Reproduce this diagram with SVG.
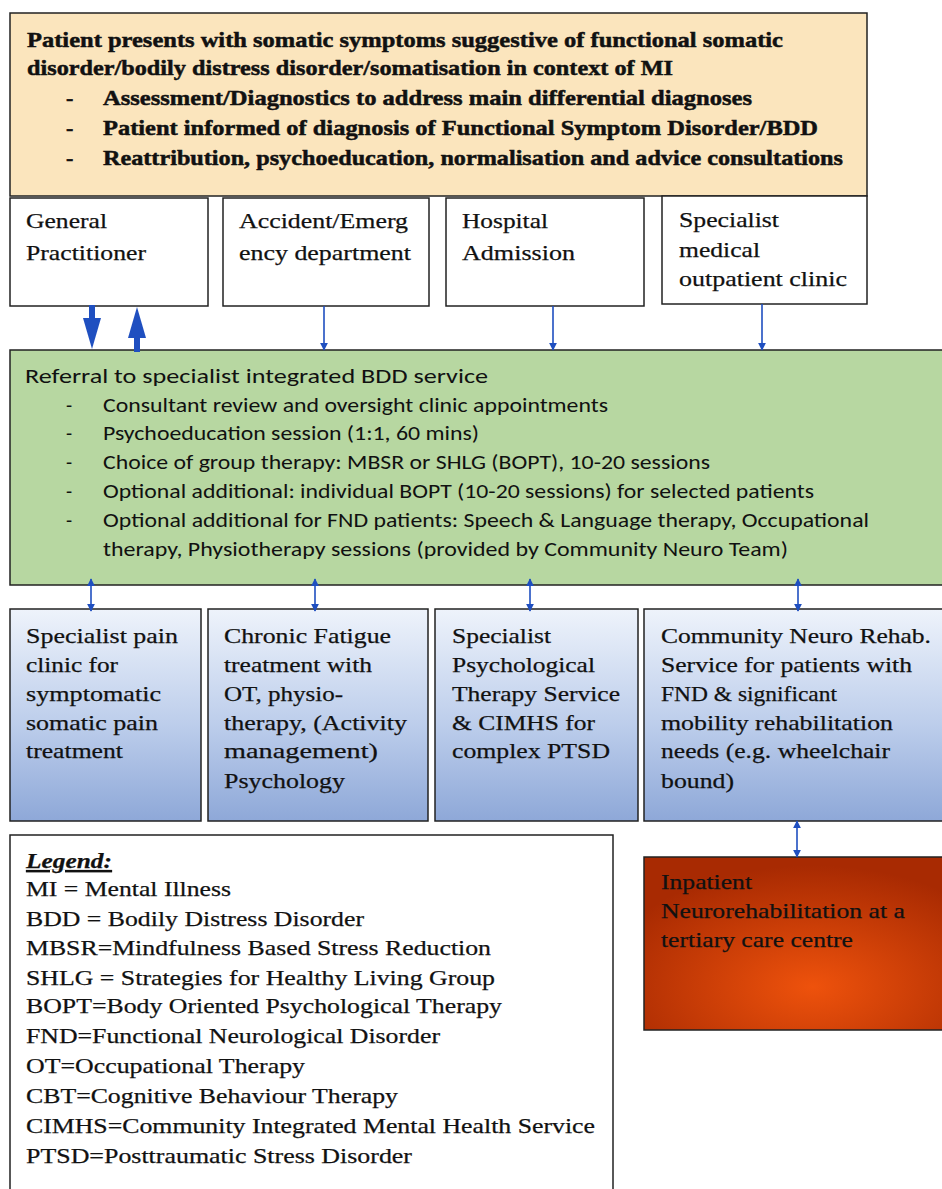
<svg xmlns="http://www.w3.org/2000/svg" width="942" height="1189" viewBox="0 0 942 1189">
<style>
.box{stroke:#222;stroke-width:1.5}
.ser{font-family:"Liberation Serif","Times New Roman",serif;font-size:22px;fill:#111;stroke:#111;stroke-width:0.25}
.bold{font-weight:bold;stroke:#111;stroke-width:0.5}
.sans{font-family:Carlito,"Liberation Sans",Arial,sans-serif;font-size:20px;fill:#111}
.thin{stroke:#1f4fc0;stroke-width:1.6;fill:none}
.thick{stroke:#1f4fc0;stroke-width:6;fill:none}
</style>
<defs>
<linearGradient id="blueG" x1="0" y1="0" x2="0" y2="1">
<stop offset="0" stop-color="#eef3fb"/>
<stop offset="0.55" stop-color="#bccdeb"/>
<stop offset="1" stop-color="#8ea8d8"/>
</linearGradient>
<radialGradient id="redG" cx="0.55" cy="0.75" r="0.7">
<stop offset="0" stop-color="#ee520c"/>
<stop offset="1" stop-color="#a82a02"/>
</radialGradient>
<marker id="ah" viewBox="0 0 10 10" refX="9" refY="5" markerWidth="8" markerHeight="8" markerUnits="userSpaceOnUse" orient="auto-start-reverse">
<path d="M0,0 L10,5 L0,10 z" fill="#1f4fc0"/>
</marker>
</defs>
<rect width="942" height="1189" fill="#ffffff"/>

<g id="node-top">
<rect class="box" x="10" y="13" width="857" height="183" fill="#fbe5bd"/>
<text class="ser bold" x="27" y="47" textLength="756" lengthAdjust="spacingAndGlyphs">Patient presents with somatic symptoms suggestive of functional somatic</text>
<text class="ser bold" x="27" y="75" textLength="646" lengthAdjust="spacingAndGlyphs">disorder/bodily distress disorder/somatisation in context of MI</text>
<text class="ser bold" x="66" y="105">-</text>
<text class="ser bold" x="103" y="105" textLength="649" lengthAdjust="spacingAndGlyphs">Assessment/Diagnostics to address main differential diagnoses</text>
<text class="ser bold" x="66" y="135">-</text>
<text class="ser bold" x="103" y="135" textLength="715" lengthAdjust="spacingAndGlyphs">Patient informed of diagnosis of Functional Symptom Disorder/BDD</text>
<text class="ser bold" x="66" y="165">-</text>
<text class="ser bold" x="103" y="165" textLength="740" lengthAdjust="spacingAndGlyphs">Reattribution, psychoeducation, normalisation and advice consultations</text>
</g>

<g id="node-gp">
<rect class="box" x="10" y="198" width="198" height="108" fill="#ffffff"/>
<text class="ser" x="26" y="228" textLength="81" lengthAdjust="spacingAndGlyphs">General</text>
<text class="ser" x="26" y="260" textLength="120" lengthAdjust="spacingAndGlyphs">Practitioner</text>
</g>
<g id="node-ae">
<rect class="box" x="223" y="198" width="206" height="108" fill="#ffffff"/>
<text class="ser" x="239" y="228" textLength="169" lengthAdjust="spacingAndGlyphs">Accident/Emerg</text>
<text class="ser" x="239" y="260" textLength="172" lengthAdjust="spacingAndGlyphs">ency department</text>
</g>
<g id="node-hosp">
<rect class="box" x="446" y="198" width="198" height="108" fill="#ffffff"/>
<text class="ser" x="462" y="228" textLength="86" lengthAdjust="spacingAndGlyphs">Hospital</text>
<text class="ser" x="462" y="260" textLength="113" lengthAdjust="spacingAndGlyphs">Admission</text>
</g>
<g id="node-spec">
<rect class="box" x="662" y="196" width="205" height="108" fill="#ffffff"/>
<text class="ser" x="679" y="227" textLength="100" lengthAdjust="spacingAndGlyphs">Specialist</text>
<text class="ser" x="679" y="257" textLength="81" lengthAdjust="spacingAndGlyphs">medical</text>
<text class="ser" x="679" y="286" textLength="168" lengthAdjust="spacingAndGlyphs">outpatient clinic</text>
</g>

<g id="node-referral">
<rect class="box" x="10" y="350" width="940" height="235" fill="#b7d7a1"/>
<text class="sans" x="25" y="383" font-size="22" textLength="463" lengthAdjust="spacingAndGlyphs">Referral to specialist integrated BDD service</text>
<text class="sans" x="66" y="412">-</text>
<text class="sans" x="103" y="412" textLength="505" lengthAdjust="spacingAndGlyphs">Consultant review and oversight clinic appointments</text>
<text class="sans" x="66" y="440">-</text>
<text class="sans" x="103" y="440" textLength="376" lengthAdjust="spacingAndGlyphs">Psychoeducation session (1:1, 60 mins)</text>
<text class="sans" x="66" y="469">-</text>
<text class="sans" x="103" y="469" textLength="607" lengthAdjust="spacingAndGlyphs">Choice of group therapy: MBSR or SHLG (BOPT), 10-20 sessions</text>
<text class="sans" x="66" y="498">-</text>
<text class="sans" x="103" y="498" textLength="711" lengthAdjust="spacingAndGlyphs">Optional additional: individual BOPT (10-20 sessions) for selected patients</text>
<text class="sans" x="66" y="527">-</text>
<text class="sans" x="103" y="527" textLength="766" lengthAdjust="spacingAndGlyphs">Optional additional for FND patients: Speech &amp; Language therapy, Occupational</text>
<text class="sans" x="103" y="556" textLength="685" lengthAdjust="spacingAndGlyphs">therapy, Physiotherapy sessions (provided by Community Neuro Team)</text>
</g>

<g id="node-pain">
<rect class="box" x="10" y="609" width="191" height="212" fill="url(#blueG)"/>
<text class="ser" x="26" y="643" textLength="152" lengthAdjust="spacingAndGlyphs">Specialist pain</text>
<text class="ser" x="26" y="672" textLength="92" lengthAdjust="spacingAndGlyphs">clinic for</text>
<text class="ser" x="26" y="701" textLength="135" lengthAdjust="spacingAndGlyphs">symptomatic</text>
<text class="ser" x="26" y="730" textLength="132" lengthAdjust="spacingAndGlyphs">somatic pain</text>
<text class="ser" x="26" y="758" textLength="97" lengthAdjust="spacingAndGlyphs">treatment</text>
</g>
<g id="node-fatigue">
<rect class="box" x="208" y="609" width="220" height="212" fill="url(#blueG)"/>
<text class="ser" x="224" y="643" textLength="167" lengthAdjust="spacingAndGlyphs">Chronic Fatigue</text>
<text class="ser" x="224" y="672" textLength="148" lengthAdjust="spacingAndGlyphs">treatment with</text>
<text class="ser" x="224" y="701" textLength="119" lengthAdjust="spacingAndGlyphs">OT, physio-</text>
<text class="ser" x="224" y="730" textLength="183" lengthAdjust="spacingAndGlyphs">therapy, (Activity</text>
<text class="ser" x="224" y="758" textLength="154" lengthAdjust="spacingAndGlyphs">management)</text>
<text class="ser" x="224" y="788" textLength="121" lengthAdjust="spacingAndGlyphs">Psychology</text>
</g>
<g id="node-psych">
<rect class="box" x="435" y="609" width="203" height="212" fill="url(#blueG)"/>
<text class="ser" x="452" y="643" textLength="99" lengthAdjust="spacingAndGlyphs">Specialist</text>
<text class="ser" x="452" y="672" textLength="143" lengthAdjust="spacingAndGlyphs">Psychological</text>
<text class="ser" x="452" y="701" textLength="168" lengthAdjust="spacingAndGlyphs">Therapy Service</text>
<text class="ser" x="452" y="730" textLength="143" lengthAdjust="spacingAndGlyphs">&amp; CIMHS for</text>
<text class="ser" x="452" y="758" textLength="158" lengthAdjust="spacingAndGlyphs">complex PTSD</text>
</g>
<g id="node-neuro">
<rect class="box" x="644" y="609" width="306" height="212" fill="url(#blueG)"/>
<text class="ser" x="661" y="643" textLength="270" lengthAdjust="spacingAndGlyphs">Community Neuro Rehab.</text>
<text class="ser" x="661" y="672" textLength="251" lengthAdjust="spacingAndGlyphs">Service for patients with</text>
<text class="ser" x="661" y="701" textLength="176" lengthAdjust="spacingAndGlyphs">FND &amp; significant</text>
<text class="ser" x="661" y="730" textLength="232" lengthAdjust="spacingAndGlyphs">mobility rehabilitation</text>
<text class="ser" x="661" y="758" textLength="229" lengthAdjust="spacingAndGlyphs">needs (e.g. wheelchair</text>
<text class="ser" x="661" y="788" textLength="73" lengthAdjust="spacingAndGlyphs">bound)</text>
</g>

<g id="node-legend">
<rect class="box" x="10" y="835" width="603" height="370" fill="#ffffff"/>
<text class="ser" x="26" y="868" font-weight="bold" font-style="italic" text-decoration="underline" textLength="86" lengthAdjust="spacingAndGlyphs">Legend:</text>
<text class="ser" x="26" y="896" textLength="205" lengthAdjust="spacingAndGlyphs">MI = Mental Illness</text>
<text class="ser" x="26" y="926" textLength="338" lengthAdjust="spacingAndGlyphs">BDD = Bodily Distress Disorder</text>
<text class="ser" x="26" y="955" textLength="465" lengthAdjust="spacingAndGlyphs">MBSR=Mindfulness Based Stress Reduction</text>
<text class="ser" x="26" y="985" textLength="469" lengthAdjust="spacingAndGlyphs">SHLG = Strategies for Healthy Living Group</text>
<text class="ser" x="26" y="1013" textLength="476" lengthAdjust="spacingAndGlyphs">BOPT=Body Oriented Psychological Therapy</text>
<text class="ser" x="26" y="1043" textLength="414" lengthAdjust="spacingAndGlyphs">FND=Functional Neurological Disorder</text>
<text class="ser" x="26" y="1073" textLength="279" lengthAdjust="spacingAndGlyphs">OT=Occupational Therapy</text>
<text class="ser" x="26" y="1103" textLength="372" lengthAdjust="spacingAndGlyphs">CBT=Cognitive Behaviour Therapy</text>
<text class="ser" x="26" y="1133" textLength="569" lengthAdjust="spacingAndGlyphs">CIMHS=Community Integrated Mental Health Service</text>
<text class="ser" x="26" y="1163" textLength="386" lengthAdjust="spacingAndGlyphs">PTSD=Posttraumatic Stress Disorder</text>
</g>

<g id="node-inpatient">
<rect class="box" x="644" y="857" width="306" height="173" fill="url(#redG)"/>
<text class="ser" x="661" y="889" textLength="91" lengthAdjust="spacingAndGlyphs">Inpatient</text>
<text class="ser" x="661" y="918" textLength="244" lengthAdjust="spacingAndGlyphs">Neurorehabilitation at a</text>
<text class="ser" x="661" y="947" textLength="192" lengthAdjust="spacingAndGlyphs">tertiary care centre</text>
</g>

<g id="connectors">
<line class="thick" x1="92" y1="305" x2="92" y2="320"/>
<path d="M83,318 L101,318 L92,349 z" fill="#1f4fc0"/>
<line class="thick" x1="137" y1="352" x2="137" y2="336"/>
<path d="M128,338 L146,338 L137,307 z" fill="#1f4fc0"/>
<line class="thin" x1="324" y1="306" x2="324" y2="350" marker-end="url(#ah)"/>
<line class="thin" x1="553" y1="306" x2="553" y2="350" marker-end="url(#ah)"/>
<line class="thin" x1="762" y1="304" x2="762" y2="350" marker-end="url(#ah)"/>
<line class="thin" x1="91" y1="579" x2="91" y2="611" marker-start="url(#ah)" marker-end="url(#ah)"/>
<line class="thin" x1="315" y1="579" x2="315" y2="611" marker-start="url(#ah)" marker-end="url(#ah)"/>
<line class="thin" x1="530" y1="579" x2="530" y2="611" marker-start="url(#ah)" marker-end="url(#ah)"/>
<line class="thin" x1="798" y1="579" x2="798" y2="611" marker-start="url(#ah)" marker-end="url(#ah)"/>
<line class="thin" x1="797" y1="821" x2="797" y2="857" marker-start="url(#ah)" marker-end="url(#ah)"/>
</g>
</svg>
